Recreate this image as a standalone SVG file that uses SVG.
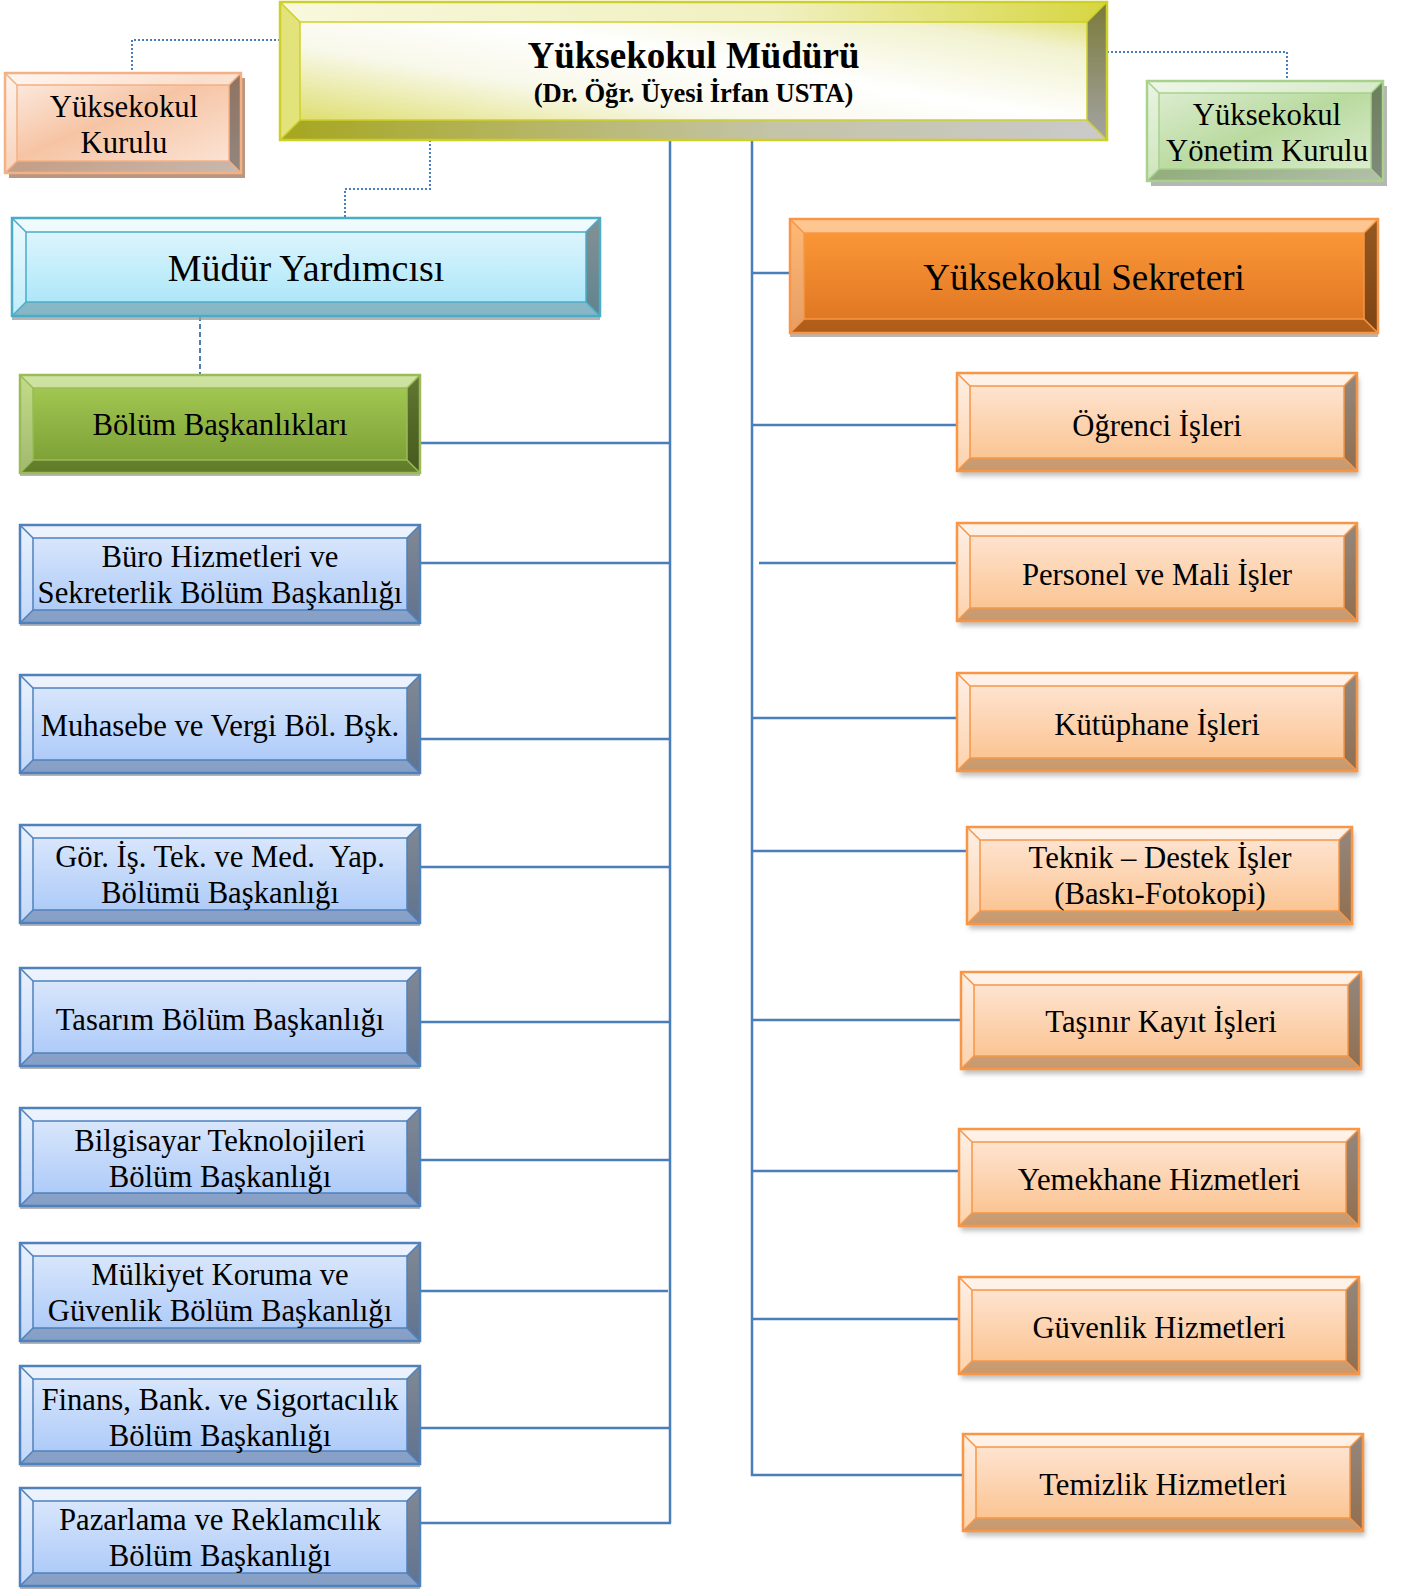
<svg xmlns="http://www.w3.org/2000/svg" width="1414" height="1589" viewBox="0 0 1414 1589">
<style>
text{font-family:"Liberation Serif","Times New Roman",serif;fill:#000;text-anchor:middle}
.t31{font-size:30.7px}
.t37{font-size:37px}
.bt{fill:#fff;fill-opacity:.45}
.bl{fill:#fff;fill-opacity:.3}
.bb{fill:#000;fill-opacity:.2}
.br{fill:#000;fill-opacity:.42}
.in,.out,.dg{fill:none}
.out{stroke-width:2.5}
.in,.dg{stroke-width:1.5}
.sh{fill:#9c9c9c;fill-opacity:.75}
.shs{fill:#8a8a8a;fill-opacity:.55;filter:url(#blur)}
.blue .in,.blue .out,.blue .dg{stroke:#4f81bd}
.lor .in,.lor .out,.lor .dg{stroke:#f79646}
.peach .in,.peach .out,.peach .dg{stroke:#f4b183}
.lgreen .in,.lgreen .out,.lgreen .dg{stroke:#a9d18e}
.cyan .in,.cyan .out,.cyan .dg{stroke:#4bacc6}
.orange .in,.orange .out,.orange .dg{stroke:#f79646}
.green .in,.green .out,.green .dg{stroke:#9bbb59}
.yel .in,.yel .out,.yel .dg{stroke:#cfcf2a}
.blue .face{fill:url(#gBlue)}
.lor .face{fill:url(#gLOr)}
.peach .face{fill:url(#gPeach)}
.lgreen .face{fill:url(#gLGreen)}
.cyan .face{fill:url(#gCyan)}
.orange .face{fill:url(#gOrange)}
.green .face{fill:url(#gGreen)}
#connectors path{fill:none;stroke:#4a7ebb}
.solid{stroke-width:2.5}
.dot{stroke-width:2;stroke-dasharray:2 2}
.dash{stroke-width:2;stroke-dasharray:5 3}
</style>
<defs>
<filter id="blur" x="-10%" y="-10%" width="120%" height="130%"><feGaussianBlur stdDeviation="2.5"/></filter>
<linearGradient id="gBlue" x1="0" y1="0" x2="0" y2="1"><stop offset="0" stop-color="#e0ebfc"/><stop offset="1" stop-color="#a6c6f8"/></linearGradient>
<linearGradient id="gLOr" x1="0" y1="0" x2="0" y2="1"><stop offset="0" stop-color="#fee9db"/><stop offset="1" stop-color="#fbbf88"/></linearGradient>
<linearGradient id="gPeach" x1="0" y1="0" x2="1" y2="1"><stop offset="0" stop-color="#fdf0e8"/><stop offset=".45" stop-color="#f6c4a4"/><stop offset="1" stop-color="#fce8dc"/></linearGradient>
<linearGradient id="gLGreen" x1="0" y1="0" x2="1" y2="1"><stop offset="0" stop-color="#e2f0d8"/><stop offset=".5" stop-color="#b9da9f"/><stop offset="1" stop-color="#e2f0d8"/></linearGradient>
<linearGradient id="gCyan" x1="0" y1="0" x2="0" y2="1"><stop offset="0" stop-color="#e6f8fe"/><stop offset="1" stop-color="#a4e4f8"/></linearGradient>
<linearGradient id="gOrange" x1="0" y1="0" x2="0" y2="1"><stop offset="0" stop-color="#ff9b3a"/><stop offset="1" stop-color="#dc7320"/></linearGradient>
<linearGradient id="gGreen" x1="0" y1="0" x2="0" y2="1"><stop offset="0" stop-color="#a8cd55"/><stop offset="1" stop-color="#789b33"/></linearGradient>
<linearGradient id="gYel" x1="0" y1="1" x2="1" y2="0"><stop offset="0" stop-color="#d6d64a"/><stop offset=".35" stop-color="#f8f8ea"/><stop offset=".55" stop-color="#ffffff"/><stop offset=".8" stop-color="#f2f2d0"/><stop offset="1" stop-color="#d8d848"/></linearGradient>
<linearGradient id="gYelTop" x1="0" y1="0" x2="1" y2="0"><stop offset="0" stop-color="#f8f8dc"/><stop offset=".6" stop-color="#f0f0c0"/><stop offset="1" stop-color="#d6d640"/></linearGradient>
<linearGradient id="gYelBot" x1="0" y1="0" x2="1" y2="0"><stop offset="0" stop-color="#a6a620"/><stop offset=".6" stop-color="#c4c4a8"/><stop offset="1" stop-color="#cacaca"/></linearGradient>
<linearGradient id="gYelR" x1="0" y1="0" x2="0" y2="1"><stop offset="0" stop-color="#7a7a38"/><stop offset="1" stop-color="#a4a4a4"/></linearGradient>
</defs>

<g id="connectors">
<path class="solid" d="M670 136V1523M420 1523H671"/>
<path class="solid" d="M420 443H670M420 563H670M420 739H670M420 867H670M420 1022H670M420 1160H670M420 1291H668M420 1428H670"/>
<path class="solid" d="M752 140V1475H963M752 273H790"/>
<path class="solid" d="M752 425H957M759 563H957M752 718H957M752 851H967M752 1020H961M752 1171H959M752 1319H959"/>
<path class="dot" d="M280 40H132V73"/>
<path class="dot" d="M430 140V189H345V218"/>
<path class="dot" d="M1107 52H1287V81"/>
<path class="dash" d="M200 316V375"/>
</g>

<g id="n-mudur" class="yel" transform="translate(280,2)">
<rect class="face" x="0" y="0" width="827" height="138" fill="url(#gYel)"/>
<polygon points="0,0 827,0 807,20 20,20" fill="url(#gYelTop)"/>
<polygon points="0,0 20,20 20,118 0,138" fill="#e3e37c"/>
<polygon points="0,138 20,118 807,118 827,138" fill="url(#gYelBot)"/>
<polygon points="827,0 827,138 807,118 807,20" fill="url(#gYelR)"/>
<rect class="in" x="20" y="20" width="787" height="98"/>
<path class="dg" d="M0 0L20 20M827 0L807 20M0 138L20 118M827 138L807 118"/>
<rect class="out" x="0" y="0" width="827" height="138"/>
<text x="413.5" y="66" font-size="37" font-weight="bold">Yüksekokul Müdürü</text>
<text x="413.5" y="100" font-size="26.6" font-weight="bold">(Dr. Öğr. Üyesi İrfan USTA)</text>
</g>

<g id="n-kurul" class="peach" transform="translate(5,73)">
<rect x="4" y="5" width="236" height="100" fill="#b9967f"/>
<rect class="face" x="0" y="0" width="236" height="100"/>
<polygon class="bt" points="0,0 236,0 224,12 12,12"/>
<polygon class="bl" points="0,0 12,12 12,88 0,100"/>
<polygon class="bb" points="0,100 12,88 224,88 236,100"/>
<polygon class="br" points="236,0 236,100 224,88 224,12"/>
<rect class="in" x="12" y="12" width="212" height="76"/>
<path class="dg" d="M0 0L12 12M236 0L224 12M0 100L12 88M236 100L224 88"/>
<rect class="out" x="0" y="0" width="236" height="100"/>
<text class="t31" x="119" y="44">Yüksekokul</text>
<text class="t31" x="119" y="80">Kurulu</text>
</g>

<g id="n-yonetim" class="lgreen" transform="translate(1147,81)">
<rect class="sh" x="4" y="5" width="236" height="100"/>
<rect class="face" x="0" y="0" width="236" height="100"/>
<polygon class="bt" points="0,0 236,0 224,12 12,12"/>
<polygon class="bl" points="0,0 12,12 12,88 0,100"/>
<polygon class="bb" points="0,100 12,88 224,88 236,100"/>
<polygon class="br" points="236,0 236,100 224,88 224,12"/>
<rect class="in" x="12" y="12" width="212" height="76"/>
<path class="dg" d="M0 0L12 12M236 0L224 12M0 100L12 88M236 100L224 88"/>
<rect class="out" x="0" y="0" width="236" height="100"/>
<text class="t31" x="120" y="44">Yüksekokul</text>
<text class="t31" x="120" y="80">Yönetim Kurulu</text>
</g>

<g id="n-yardimci" class="cyan" transform="translate(12,218)">
<rect class="sh" x="0" y="4" width="588" height="98"/>
<rect class="face" x="0" y="0" width="588" height="98"/>
<polygon class="bt" points="0,0 588,0 574,14 14,14"/>
<polygon class="bl" points="0,0 14,14 14,84 0,98"/>
<polygon class="bb" points="0,98 14,84 574,84 588,98"/>
<polygon class="br" points="588,0 588,98 574,84 574,14"/>
<rect class="in" x="14" y="14" width="560" height="70"/>
<path class="dg" d="M0 0L14 14M588 0L574 14M0 98L14 84M588 98L574 84"/>
<rect class="out" x="0" y="0" width="588" height="98"/>
<text x="294" y="63" font-size="38">Müdür Yardımcısı</text>
</g>

<g id="n-sekreter" class="orange" transform="translate(790,219)">
<rect class="sh" x="0" y="4" width="588" height="114"/>
<rect class="face" x="0" y="0" width="588" height="114"/>
<polygon class="bt" points="0,0 588,0 574,14 14,14"/>
<polygon class="bl" points="0,0 14,14 14,100 0,114"/>
<polygon class="bb" points="0,114 14,100 574,100 588,114"/>
<polygon class="br" points="588,0 588,114 574,100 574,14"/>
<rect class="in" x="14" y="14" width="560" height="86"/>
<path class="dg" d="M0 0L14 14M588 0L574 14M0 114L14 100M588 114L574 100"/>
<rect class="out" x="0" y="0" width="588" height="114"/>
<text class="t37" x="294" y="71">Yüksekokul Sekreteri</text>
</g>

<g id="n-bolum" class="green" transform="translate(20,375)">
<rect class="sh" x="0" y="3" width="400" height="98"/>
<rect class="face" x="0" y="0" width="400" height="98"/>
<polygon class="bt" points="0,0 400,0 387,13 13,13"/>
<polygon class="bl" points="0,0 13,13 13,85 0,98"/>
<polygon class="bb" points="0,98 13,85 387,85 400,98"/>
<polygon class="br" points="400,0 400,98 387,85 387,13"/>
<rect class="in" x="13" y="13" width="374" height="72"/>
<path class="dg" d="M0 0L13 13M400 0L387 13M0 98L13 85M400 98L387 85"/>
<rect class="out" x="0" y="0" width="400" height="98"/>
<text class="t31" x="200" y="60">Bölüm Başkanlıkları</text>
</g>

<g id="n-buro" class="blue" transform="translate(20,525)">
<rect class="sh" x="0" y="3" width="400" height="98"/>
<rect class="face" x="0" y="0" width="400" height="98"/>
<polygon class="bt" points="0,0 400,0 387,13 13,13"/>
<polygon class="bl" points="0,0 13,13 13,85 0,98"/>
<polygon class="bb" points="0,98 13,85 387,85 400,98"/>
<polygon class="br" points="400,0 400,98 387,85 387,13"/>
<rect class="in" x="13" y="13" width="374" height="72"/>
<path class="dg" d="M0 0L13 13M400 0L387 13M0 98L13 85M400 98L387 85"/>
<rect class="out" x="0" y="0" width="400" height="98"/>
<text class="t31" x="200" y="42">Büro Hizmetleri ve</text>
<text class="t31" x="200" y="78">Sekreterlik Bölüm Başkanlığı</text>
</g>

<g id="n-muhasebe" class="blue" transform="translate(20,675)">
<rect class="sh" x="0" y="3" width="400" height="98"/>
<rect class="face" x="0" y="0" width="400" height="98"/>
<polygon class="bt" points="0,0 400,0 387,13 13,13"/>
<polygon class="bl" points="0,0 13,13 13,85 0,98"/>
<polygon class="bb" points="0,98 13,85 387,85 400,98"/>
<polygon class="br" points="400,0 400,98 387,85 387,13"/>
<rect class="in" x="13" y="13" width="374" height="72"/>
<path class="dg" d="M0 0L13 13M400 0L387 13M0 98L13 85M400 98L387 85"/>
<rect class="out" x="0" y="0" width="400" height="98"/>
<text class="t31" x="200" y="61">Muhasebe ve Vergi Böl. Bşk.</text>
</g>

<g id="n-gorsel" class="blue" transform="translate(20,825)">
<rect class="sh" x="0" y="3" width="400" height="98"/>
<rect class="face" x="0" y="0" width="400" height="98"/>
<polygon class="bt" points="0,0 400,0 387,13 13,13"/>
<polygon class="bl" points="0,0 13,13 13,85 0,98"/>
<polygon class="bb" points="0,98 13,85 387,85 400,98"/>
<polygon class="br" points="400,0 400,98 387,85 387,13"/>
<rect class="in" x="13" y="13" width="374" height="72"/>
<path class="dg" d="M0 0L13 13M400 0L387 13M0 98L13 85M400 98L387 85"/>
<rect class="out" x="0" y="0" width="400" height="98"/>
<text class="t31" x="200" y="42" xml:space="preserve">Gör. İş. Tek. ve Med.  Yap.</text>
<text class="t31" x="200" y="78">Bölümü Başkanlığı</text>
</g>

<g id="n-tasarim" class="blue" transform="translate(20,968)">
<rect class="sh" x="0" y="3" width="400" height="98"/>
<rect class="face" x="0" y="0" width="400" height="98"/>
<polygon class="bt" points="0,0 400,0 387,13 13,13"/>
<polygon class="bl" points="0,0 13,13 13,85 0,98"/>
<polygon class="bb" points="0,98 13,85 387,85 400,98"/>
<polygon class="br" points="400,0 400,98 387,85 387,13"/>
<rect class="in" x="13" y="13" width="374" height="72"/>
<path class="dg" d="M0 0L13 13M400 0L387 13M0 98L13 85M400 98L387 85"/>
<rect class="out" x="0" y="0" width="400" height="98"/>
<text class="t31" x="200" y="62">Tasarım Bölüm Başkanlığı</text>
</g>

<g id="n-bilgisayar" class="blue" transform="translate(20,1108)">
<rect class="sh" x="0" y="3" width="400" height="98"/>
<rect class="face" x="0" y="0" width="400" height="98"/>
<polygon class="bt" points="0,0 400,0 387,13 13,13"/>
<polygon class="bl" points="0,0 13,13 13,85 0,98"/>
<polygon class="bb" points="0,98 13,85 387,85 400,98"/>
<polygon class="br" points="400,0 400,98 387,85 387,13"/>
<rect class="in" x="13" y="13" width="374" height="72"/>
<path class="dg" d="M0 0L13 13M400 0L387 13M0 98L13 85M400 98L387 85"/>
<rect class="out" x="0" y="0" width="400" height="98"/>
<text class="t31" x="200" y="43">Bilgisayar Teknolojileri</text>
<text class="t31" x="200" y="79">Bölüm Başkanlığı</text>
</g>

<g id="n-mulkiyet" class="blue" transform="translate(20,1243)">
<rect class="sh" x="0" y="3" width="400" height="98"/>
<rect class="face" x="0" y="0" width="400" height="98"/>
<polygon class="bt" points="0,0 400,0 387,13 13,13"/>
<polygon class="bl" points="0,0 13,13 13,85 0,98"/>
<polygon class="bb" points="0,98 13,85 387,85 400,98"/>
<polygon class="br" points="400,0 400,98 387,85 387,13"/>
<rect class="in" x="13" y="13" width="374" height="72"/>
<path class="dg" d="M0 0L13 13M400 0L387 13M0 98L13 85M400 98L387 85"/>
<rect class="out" x="0" y="0" width="400" height="98"/>
<text class="t31" x="200" y="42">Mülkiyet Koruma ve</text>
<text class="t31" x="200" y="78">Güvenlik Bölüm Başkanlığı</text>
</g>

<g id="n-finans" class="blue" transform="translate(20,1366)">
<rect class="sh" x="0" y="3" width="400" height="98"/>
<rect class="face" x="0" y="0" width="400" height="98"/>
<polygon class="bt" points="0,0 400,0 387,13 13,13"/>
<polygon class="bl" points="0,0 13,13 13,85 0,98"/>
<polygon class="bb" points="0,98 13,85 387,85 400,98"/>
<polygon class="br" points="400,0 400,98 387,85 387,13"/>
<rect class="in" x="13" y="13" width="374" height="72"/>
<path class="dg" d="M0 0L13 13M400 0L387 13M0 98L13 85M400 98L387 85"/>
<rect class="out" x="0" y="0" width="400" height="98"/>
<text class="t31" x="200" y="44">Finans, Bank. ve Sigortacılık</text>
<text class="t31" x="200" y="80">Bölüm Başkanlığı</text>
</g>

<g id="n-pazarlama" class="blue" transform="translate(20,1488)">
<rect class="sh" x="0" y="3" width="400" height="98"/>
<rect class="face" x="0" y="0" width="400" height="98"/>
<polygon class="bt" points="0,0 400,0 387,13 13,13"/>
<polygon class="bl" points="0,0 13,13 13,85 0,98"/>
<polygon class="bb" points="0,98 13,85 387,85 400,98"/>
<polygon class="br" points="400,0 400,98 387,85 387,13"/>
<rect class="in" x="13" y="13" width="374" height="72"/>
<path class="dg" d="M0 0L13 13M400 0L387 13M0 98L13 85M400 98L387 85"/>
<rect class="out" x="0" y="0" width="400" height="98"/>
<text class="t31" x="200" y="42">Pazarlama ve Reklamcılık</text>
<text class="t31" x="200" y="78">Bölüm Başkanlığı</text>
</g>

<g id="n-ogrenci" class="lor" transform="translate(957,373)">
<rect class="shs" x="2" y="5" width="400" height="98"/>
<rect class="face" x="0" y="0" width="400" height="98"/>
<polygon class="bt" points="0,0 400,0 387,13 13,13"/>
<polygon class="bl" points="0,0 13,13 13,85 0,98"/>
<polygon class="bb" points="0,98 13,85 387,85 400,98"/>
<polygon class="br" points="400,0 400,98 387,85 387,13"/>
<rect class="in" x="13" y="13" width="374" height="72"/>
<path class="dg" d="M0 0L13 13M400 0L387 13M0 98L13 85M400 98L387 85"/>
<rect class="out" x="0" y="0" width="400" height="98"/>
<text class="t31" x="200" y="63">Öğrenci İşleri</text>
</g>

<g id="n-personel" class="lor" transform="translate(957,523)">
<rect class="shs" x="2" y="5" width="400" height="98"/>
<rect class="face" x="0" y="0" width="400" height="98"/>
<polygon class="bt" points="0,0 400,0 387,13 13,13"/>
<polygon class="bl" points="0,0 13,13 13,85 0,98"/>
<polygon class="bb" points="0,98 13,85 387,85 400,98"/>
<polygon class="br" points="400,0 400,98 387,85 387,13"/>
<rect class="in" x="13" y="13" width="374" height="72"/>
<path class="dg" d="M0 0L13 13M400 0L387 13M0 98L13 85M400 98L387 85"/>
<rect class="out" x="0" y="0" width="400" height="98"/>
<text class="t31" x="200" y="62">Personel ve Mali İşler</text>
</g>

<g id="n-kutuphane" class="lor" transform="translate(957,673)">
<rect class="shs" x="2" y="5" width="400" height="98"/>
<rect class="face" x="0" y="0" width="400" height="98"/>
<polygon class="bt" points="0,0 400,0 387,13 13,13"/>
<polygon class="bl" points="0,0 13,13 13,85 0,98"/>
<polygon class="bb" points="0,98 13,85 387,85 400,98"/>
<polygon class="br" points="400,0 400,98 387,85 387,13"/>
<rect class="in" x="13" y="13" width="374" height="72"/>
<path class="dg" d="M0 0L13 13M400 0L387 13M0 98L13 85M400 98L387 85"/>
<rect class="out" x="0" y="0" width="400" height="98"/>
<text class="t31" x="200" y="62">Kütüphane İşleri</text>
</g>

<g id="n-teknik" class="lor" transform="translate(967,827)">
<rect class="shs" x="2" y="5" width="385" height="97"/>
<rect class="face" x="0" y="0" width="385" height="97"/>
<polygon class="bt" points="0,0 385,0 372,13 13,13"/>
<polygon class="bl" points="0,0 13,13 13,84 0,97"/>
<polygon class="bb" points="0,97 13,84 372,84 385,97"/>
<polygon class="br" points="385,0 385,97 372,84 372,13"/>
<rect class="in" x="13" y="13" width="359" height="71"/>
<path class="dg" d="M0 0L13 13M385 0L372 13M0 97L13 84M385 97L372 84"/>
<rect class="out" x="0" y="0" width="385" height="97"/>
<text class="t31" x="193" y="41">Teknik – Destek İşler</text>
<text class="t31" x="193" y="77">(Baskı-Fotokopi)</text>
</g>

<g id="n-tasinir" class="lor" transform="translate(961,972)">
<rect class="shs" x="2" y="5" width="400" height="97"/>
<rect class="face" x="0" y="0" width="400" height="97"/>
<polygon class="bt" points="0,0 400,0 387,13 13,13"/>
<polygon class="bl" points="0,0 13,13 13,84 0,97"/>
<polygon class="bb" points="0,97 13,84 387,84 400,97"/>
<polygon class="br" points="400,0 400,97 387,84 387,13"/>
<rect class="in" x="13" y="13" width="374" height="71"/>
<path class="dg" d="M0 0L13 13M400 0L387 13M0 97L13 84M400 97L387 84"/>
<rect class="out" x="0" y="0" width="400" height="97"/>
<text class="t31" x="200" y="60">Taşınır Kayıt İşleri</text>
</g>

<g id="n-yemekhane" class="lor" transform="translate(959,1129)">
<rect class="shs" x="2" y="5" width="400" height="97"/>
<rect class="face" x="0" y="0" width="400" height="97"/>
<polygon class="bt" points="0,0 400,0 387,13 13,13"/>
<polygon class="bl" points="0,0 13,13 13,84 0,97"/>
<polygon class="bb" points="0,97 13,84 387,84 400,97"/>
<polygon class="br" points="400,0 400,97 387,84 387,13"/>
<rect class="in" x="13" y="13" width="374" height="71"/>
<path class="dg" d="M0 0L13 13M400 0L387 13M0 97L13 84M400 97L387 84"/>
<rect class="out" x="0" y="0" width="400" height="97"/>
<text class="t31" x="200" y="61">Yemekhane Hizmetleri</text>
</g>

<g id="n-guvenlik" class="lor" transform="translate(959,1277)">
<rect class="shs" x="2" y="5" width="400" height="97"/>
<rect class="face" x="0" y="0" width="400" height="97"/>
<polygon class="bt" points="0,0 400,0 387,13 13,13"/>
<polygon class="bl" points="0,0 13,13 13,84 0,97"/>
<polygon class="bb" points="0,97 13,84 387,84 400,97"/>
<polygon class="br" points="400,0 400,97 387,84 387,13"/>
<rect class="in" x="13" y="13" width="374" height="71"/>
<path class="dg" d="M0 0L13 13M400 0L387 13M0 97L13 84M400 97L387 84"/>
<rect class="out" x="0" y="0" width="400" height="97"/>
<text class="t31" x="200" y="61">Güvenlik Hizmetleri</text>
</g>

<g id="n-temizlik" class="lor" transform="translate(963,1434)">
<rect class="shs" x="2" y="5" width="400" height="97"/>
<rect class="face" x="0" y="0" width="400" height="97"/>
<polygon class="bt" points="0,0 400,0 387,13 13,13"/>
<polygon class="bl" points="0,0 13,13 13,84 0,97"/>
<polygon class="bb" points="0,97 13,84 387,84 400,97"/>
<polygon class="br" points="400,0 400,97 387,84 387,13"/>
<rect class="in" x="13" y="13" width="374" height="71"/>
<path class="dg" d="M0 0L13 13M400 0L387 13M0 97L13 84M400 97L387 84"/>
<rect class="out" x="0" y="0" width="400" height="97"/>
<text class="t31" x="200" y="61">Temizlik Hizmetleri</text>
</g>
</svg>
